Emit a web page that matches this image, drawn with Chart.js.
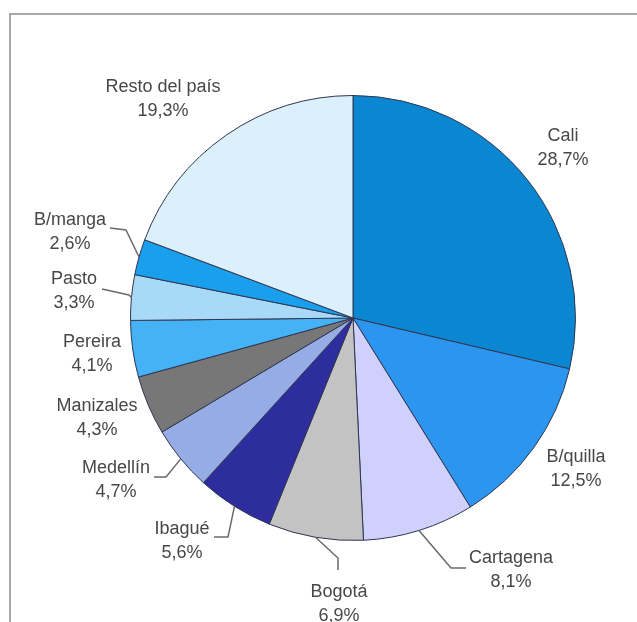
<!DOCTYPE html>
<html>
<head>
<meta charset="utf-8">
<script src="https://cdn.jsdelivr.net/npm/chart.js@4/dist/chart.umd.min.js"></script>
<style>
  html, body { margin: 0; padding: 0; background: #ffffff; }
  #wrap { position: relative; width: 637px; height: 622px; overflow: hidden; }
  canvas { display: block; }
</style>
</head>
<body>
<div id="wrap"><canvas id="pie" width="637" height="622"></canvas></div>
<script>
// Participación por ciudad (%)
const cities = ['Cali', 'B/quilla', 'Cartagena', 'Bogotá', 'Ibagué', 'Medellín',
                'Manizales', 'Pereira', 'Pasto', 'B/manga', 'Resto del país'];
const shares = [28.7, 12.5, 8.1, 6.9, 5.6, 4.7, 4.3, 4.1, 3.3, 2.6, 19.3];
const sliceColors = ['#0b87d2', '#2b95f0', '#d0d0fd', '#c3c3c3', '#2d2d9e', '#96ace5',
                     '#777777', '#44b2f4', '#a8d9f6', '#199fec', '#dcf0fc'];

// Label placement: offset of the first text line from the pie centre,
// and optional leader elbows (relative to the label) running to the slice edge.
const labelLayout = [
  { dx: 210,  dy: -182 },
  { dx: 223,  dy: 139 },
  { dx: 158,  dy: 240,  leader: [[-45, 10], [-60, 10]] },
  { dx: -14,  dy: 274,  leader: [[-1, -22], [-1, -34]] },
  { dx: -171, dy: 211,  leader: [[32, 8], [46, 8]] },
  { dx: -237, dy: 150,  leader: [[38, 9], [50, 9]] },
  { dx: -256, dy: 88 },
  { dx: -261, dy: 24 },
  { dx: -279, dy: -39,  leader: [[28, 10], [55, 16]] },
  { dx: -283, dy: -98,  leader: [[40, 8], [56, 10]] },
  { dx: -190, dy: -231 }
];

const fmt = v => v.toFixed(1).replace('.', ',') + '%';

const framePlugin = {
  id: 'frame',
  beforeDraw(chart) {
    const c = chart.ctx;
    c.save();
    c.strokeStyle = '#a9a9a9';
    c.lineWidth = 2;
    c.beginPath();
    c.moveTo(10, 622);
    c.lineTo(10, 14);
    c.lineTo(637, 14);
    c.stroke();
    c.restore();
  }
};

const labelPlugin = {
  id: 'sliceLabels',
  afterDatasetsDraw(chart) {
    const c = chart.ctx;
    const arcs = chart.getDatasetMeta(0).data;
    c.save();
    arcs.forEach((arc, i) => {
      const p = arc.getProps(['x', 'y', 'startAngle', 'endAngle', 'outerRadius'], true);
      const lay = labelLayout[i];
      const lx = p.x + lay.dx, ly = p.y + lay.dy;
      if (lay.leader) {
        const mid = (p.startAngle + p.endAngle) / 2;
        const ex = p.x + Math.cos(mid) * p.outerRadius;
        const ey = p.y + Math.sin(mid) * p.outerRadius;
        c.strokeStyle = '#6a6a6a';
        c.lineWidth = 1.5;
        c.beginPath();
        c.moveTo(lx + lay.leader[0][0], ly + lay.leader[0][1]);
        c.lineTo(lx + lay.leader[1][0], ly + lay.leader[1][1]);
        c.lineTo(ex, ey);
        c.stroke();
      }
      c.fillStyle = '#474747';
      c.font = '18px "Liberation Sans", Arial, sans-serif';
      c.textAlign = 'center';
      c.textBaseline = 'middle';
      c.fillText(cities[i], lx, ly);
      c.fillText(fmt(shares[i]), lx, ly + 24);
    });
    c.restore();
  }
};

new Chart(document.getElementById('pie'), {
  type: 'pie',
  data: {
    labels: cities,
    datasets: [{
      data: shares,
      backgroundColor: sliceColors,
      borderColor: '#2f3652',
      borderWidth: 1
    }]
  },
  options: {
    responsive: false,
    animation: false,
    layout: { padding: { left: 130, right: 61, top: 95, bottom: 81 } },
    plugins: {
      legend: { display: false },
      tooltip: { enabled: false },
      title: { display: false }
    }
  },
  plugins: [framePlugin, labelPlugin]
});
</script>
</body>
</html>
